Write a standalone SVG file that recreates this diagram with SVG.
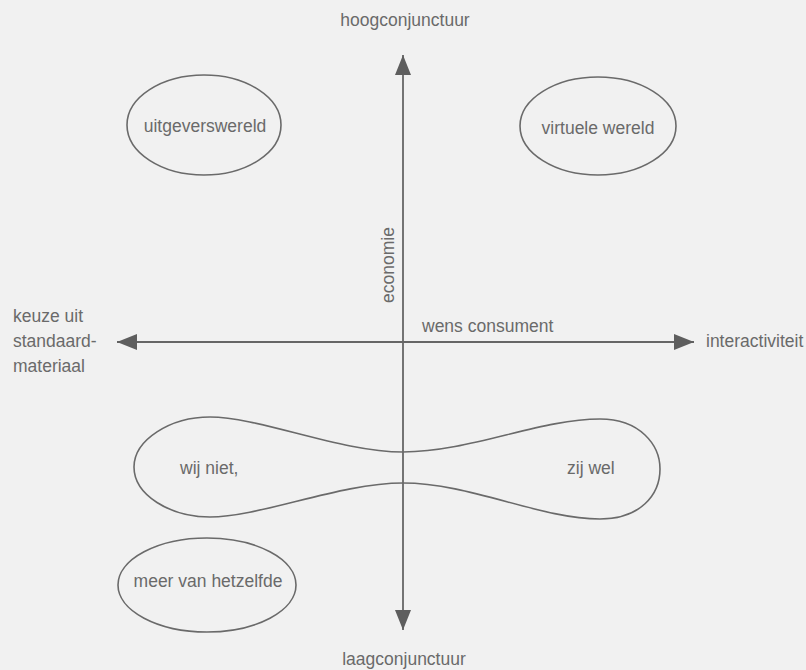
<svg xmlns="http://www.w3.org/2000/svg" width="806" height="670" viewBox="0 0 806 670">
  <style>
    .bg { fill: #f1f1f1; }
    .shape { fill: none; stroke: #6a6a6a; stroke-width: 1.6; }
    .axis { fill: none; stroke: #666; stroke-width: 1.8; }
    .lbl { font-family: "Liberation Sans", Arial, sans-serif; font-size: 17.5px; fill: #6a6a6a; }
    .mid { text-anchor: middle; }
  </style>
  <defs>
    <marker id="arrow" viewBox="0 0 20 16" refX="20" refY="8" markerWidth="20" markerHeight="16" markerUnits="userSpaceOnUse" orient="auto">
      <path d="M0,0 L20,8 L0,16 Z" fill="#5e5e5e"/>
    </marker>
  </defs>

  <rect class="bg" x="0" y="0" width="806" height="670"/>

  <!-- axes -->
  <g id="connectors">
    <line class="axis" x1="403" y1="342" x2="403" y2="55" marker-end="url(#arrow)"/>
    <line class="axis" x1="403" y1="342" x2="403" y2="630" marker-end="url(#arrow)"/>
    <line class="axis" x1="403" y1="342" x2="117" y2="342" marker-end="url(#arrow)"/>
    <line class="axis" x1="403" y1="342" x2="694" y2="342" marker-end="url(#arrow)"/>
  </g>

  <!-- axis labels -->
  <g id="axis-labels">
    <text class="lbl mid" x="405" y="26">hoogconjunctuur</text>
    <text class="lbl mid" x="404" y="665">laagconjunctuur</text>
    <text class="lbl" x="13" y="322">keuze uit</text>
    <text class="lbl" x="13" y="347">standaard-</text>
    <text class="lbl" x="13" y="372">materiaal</text>
    <text class="lbl" x="706" y="347">interactiviteit</text>
    <text class="lbl" x="422" y="332">wens consument</text>
    <text class="lbl mid" transform="translate(394,265) rotate(-90)">economie</text>
  </g>

  <g id="uitgeverswereld">
    <ellipse class="shape" cx="204" cy="125" rx="77" ry="50"/>
    <text class="lbl mid" x="205" y="132">uitgeverswereld</text>
  </g>

  <g id="virtuele-wereld">
    <ellipse class="shape" cx="598" cy="126" rx="78" ry="49"/>
    <text class="lbl mid" x="598" y="134">virtuele wereld</text>
  </g>

  <g id="wij-niet-zij-wel">
    <path class="shape" d="M134,467 C134,440 170,417 210,417 C260,417 340,452 403,452 C470,452 540,419 600,419 C640,419 660,445 660,469 C660,495 640,519 600,519 C540,519 470,483 403,483 C340,483 260,517 210,517 C170,517 134,495 134,467 Z"/>
    <text class="lbl" x="180" y="474">wij niet,</text>
    <text class="lbl" x="567" y="474">zij wel</text>
  </g>

  <g id="meer-van-hetzelfde">
    <ellipse class="shape" cx="207" cy="585" rx="89" ry="47"/>
    <text class="lbl mid" x="208" y="587">meer van hetzelfde</text>
  </g>
</svg>
